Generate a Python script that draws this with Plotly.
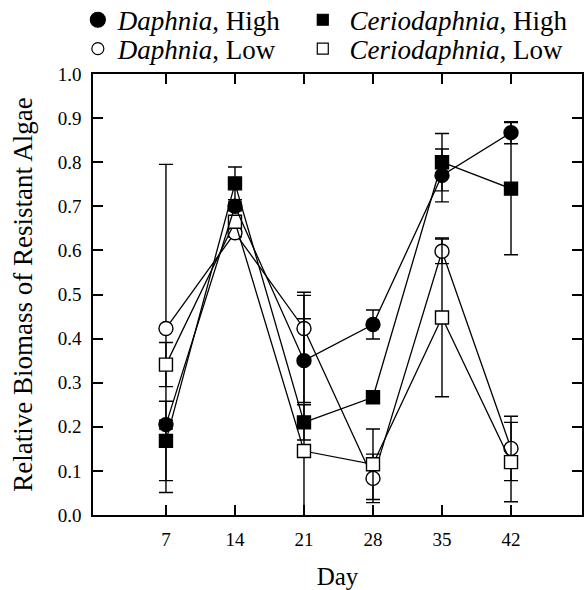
import plotly.graph_objects as go

days = [7, 14, 21, 28, 35, 42]

daph_high = [0.205, 0.70, 0.35, 0.432, 0.77, 0.867]
daph_high_err = [0.01, 0.01, 0.095, 0.033, 0.06, 0.025]

cerio_high = [0.168, 0.752, 0.21, 0.267, 0.80, 0.74]
cerio_high_err = [0.09, 0.037, 0.04, 0.01, 0.065, 0.15]

daph_low = [0.423, 0.64, 0.423, 0.083, 0.598, 0.151]
daph_low_err = [0.372, 0.01, 0.075, 0.055, 0.028, 0.073]

cerio_low = [0.341, 0.665, 0.145, 0.115, 0.448, 0.12]
cerio_low_err = [0.05, 0.01, 0.36, 0.08, 0.18, 0.09]

x_ticks = [7, 14, 21, 28, 35, 42]
y_ticks = [0.0, 0.1, 0.2, 0.3, 0.4, 0.5, 0.6, 0.7, 0.8, 0.9, 1.0]

FONT = "Liberation Serif"
NB = "\u00a0"

series = [
    ("<i>Daphnia</i>, High", daph_high, daph_high_err, "circle", "black", "legend", 15),
    (NB + "<i>Ceriodaphnia</i>, High", cerio_high, cerio_high_err, "square", "black", "legend2", 11),
    ("<i>Daphnia</i>, Low", daph_low, daph_low_err, "circle", "white", "legend3", 12),
    (NB + "<i>Ceriodaphnia</i>, Low", cerio_low, cerio_low_err, "square", "white", "legend4", 11),
]

fig = go.Figure()

# low series drawn first so filled ones sit on top
for name, vals, errs, sym, fill, leg, ls in [series[2], series[3], series[0], series[1]]:
    fig.add_trace(go.Scatter(
        x=days, y=vals, mode="lines+markers", showlegend=False,
        line=dict(color="black", width=1.3),
        marker=dict(symbol=sym, size=14 if sym == "circle" else 13, color=fill,
                    line=dict(color="black", width=1.4)),
        error_y=dict(type="data", array=errs, visible=True, color="black",
                     thickness=1.4, width=7),
    ))

for name, vals, errs, sym, fill, leg, ls in series:
    fig.add_trace(go.Scatter(
        x=[None], y=[None], mode="markers", name=name, legend=leg,
        marker=dict(symbol=sym, size=ls, color=fill,
                    line=dict(color="black", width=1.2)),
    ))

axis_common = dict(
    showline=True, linecolor="black", linewidth=1.5, mirror="ticks",
    ticks="inside", ticklen=10, tickwidth=1.5, tickcolor="black",
    showgrid=False, zeroline=False,
    tickfont=dict(family=FONT, size=19, color="black"),
)

def leg(x, y):
    return dict(x=x, y=y, xanchor="left", yanchor="middle",
                font=dict(family=FONT, size=27, color="black"),
                bgcolor="rgba(0,0,0,0)", borderwidth=0)

fig.update_layout(
    width=587, height=590,
    margin=dict(l=93, r=5, t=74, b=75, autoexpand=False),
    paper_bgcolor="white", plot_bgcolor="white",
    font=dict(family=FONT, color="black"),
    xaxis=dict(range=[-0.4, 49.2], tickvals=x_ticks, ticklabelstandoff=6,
               title=dict(text="Day", font=dict(family=FONT, size=25), standoff=19),
               automargin=False, **axis_common),
    yaxis=dict(range=[0, 1.0], tickvals=y_ticks, tickformat=".1f", ticklabelstandoff=6,
               title=dict(text="Relative Biomass of Resistant Algae",
                          font=dict(family=FONT, size=27), standoff=17),
               automargin=False, **axis_common),
    legend=leg(-0.031, 1.122),
    legend2=leg(0.429, 1.122),
    legend3=leg(-0.031, 1.0565),
    legend4=leg(0.429, 1.0565),
)

fig.write_html("out.html", config={"displayModeBar": False},
               post_script="document.body.style.margin='0';")
